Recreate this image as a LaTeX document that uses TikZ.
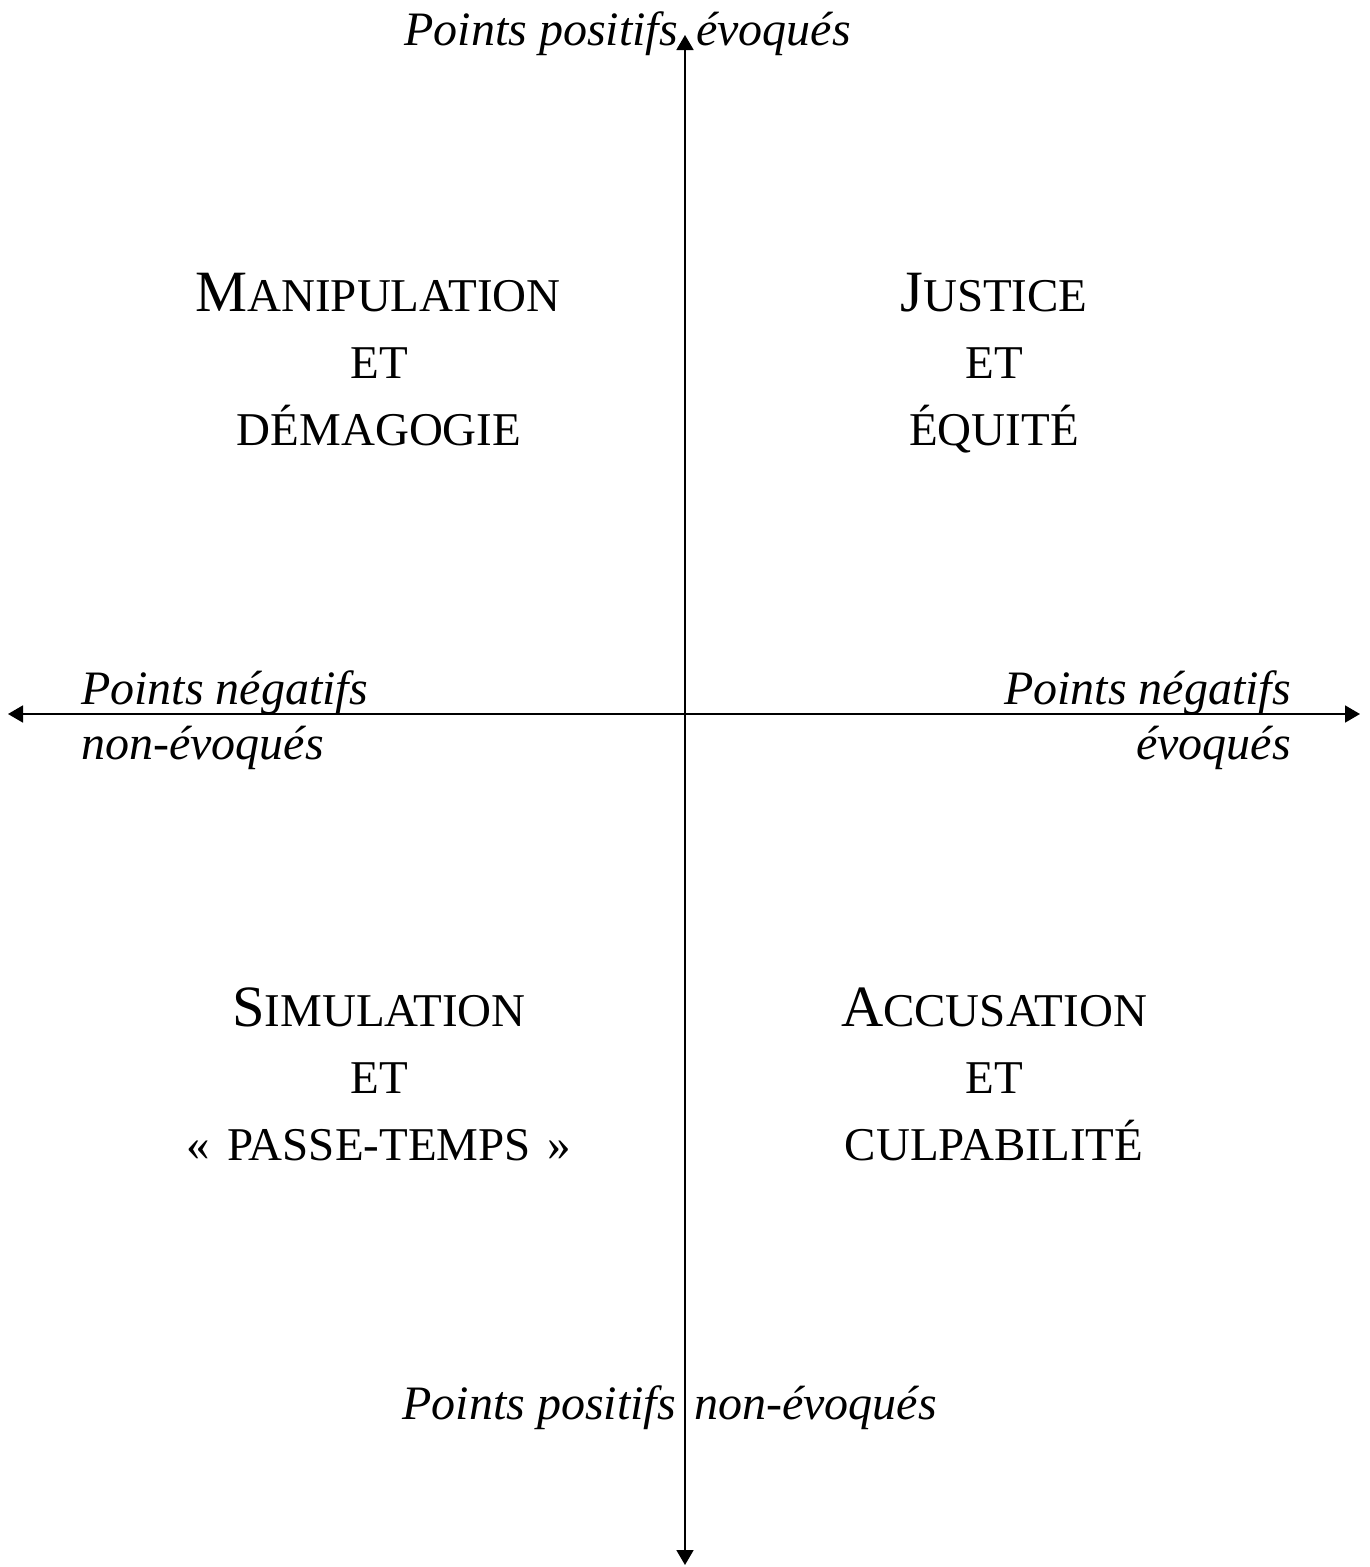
\documentclass[tikz,border=0pt]{standalone}
\usepackage{fontspec}
\setmainfont{Liberation Serif}
\usetikzlibrary{arrows.meta}
\newcommand\capA[1]{{\fontsize{58.5}{62}\selectfont #1}}
\tikzset{
  axis/.style={line width=1.8pt, {Triangle[length=15pt,width=17pt]}-{Triangle[length=15pt,width=17pt]}},
  lab/.style={inner sep=0pt, font=\fontsize{48}{52}\selectfont\itshape},
  quad/.style={inner sep=0pt, anchor=base, font=\fontsize{47}{52}\selectfont},
}
\begin{document}
\begin{tikzpicture}[x=1pt,y=-1pt]
\useasboundingbox (0,0) rectangle (1370,1567);
\coordinate (top) at (685,35);
\coordinate (bot) at (685,1565);
\coordinate (lft) at (8,714);
\coordinate (rgt) at (1360,714);
\draw[axis] (top) -- (bot);
\draw[axis] (lft) -- (rgt);
% axis labels
\node[lab, anchor=base east] (t1) at (678,45) {Points positifs};
\node[lab, anchor=base west] (t2) at (696,45) {évoqués};
\node[lab, anchor=base east] (b1) at (676,1419) {Points positifs};
\node[lab, anchor=base west] (b2) at (694,1419) {non-évoqués};
\node[lab, anchor=base west] (l1) at (81,704) {Points négatifs};
\node[lab, anchor=base west] (l2) at (81,759) {non-évoqués};
\node[lab, anchor=base east] (r1) at (1291,704) {Points négatifs};
\node[lab, anchor=base east] (r2) at (1291,759) {évoqués};
% quadrants
\node[quad] (m1) at (378,311) {\capA{M}ANIPULATION};
\node[quad] (m2) at (379,378) {ET};
\node[quad] (m3) at (379,445) {DÉMAGOGIE};
\node[quad] (j1) at (994,311) {\capA{J}USTICE};
\node[quad] (j2) at (994,378) {ET};
\node[quad] (j3) at (994,445) {ÉQUITÉ};
\node[quad] (s1) at (379,1026) {\capA{S}IMULATION};
\node[quad] (s2) at (379,1093) {ET};
\node[quad] (s3) at (379,1160) {«\hspace{0.36em}PASSE-TEMPS\hspace{0.36em}»};
\node[quad] (a1) at (994,1026) {\capA{A}CCUSATION};
\node[quad] (a2) at (994,1093) {ET};
\node[quad] (a3) at (994,1160) {CULPABILITÉ};
\end{tikzpicture}
\end{document}
